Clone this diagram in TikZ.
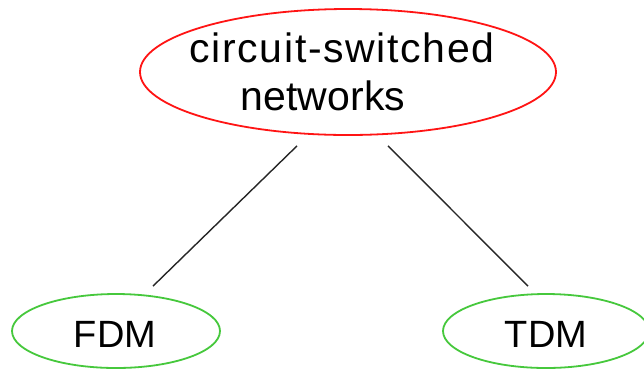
\documentclass[tikz,border=0pt]{standalone}
\usepackage{fontspec}
\setmainfont{Liberation Sans}
\newfontfamily\widesans[LetterSpace=4]{Liberation Sans}
\usetikzlibrary{shapes.geometric}
\definecolor{ellred}{RGB}{255,20,20}
\definecolor{ellgreen}{RGB}{70,200,60}
\begin{document}
\begin{tikzpicture}[x=1pt,y=-1pt,
  topell/.style={ellipse, draw=ellred, line width=1.8pt, inner sep=0pt},
  leafell/.style={ellipse, draw=ellgreen, line width=1.8pt, inner sep=0pt},
  bigtext/.style={anchor=base, inner sep=0pt, font=\fontsize{41}{48}\selectfont},
  leaftext/.style={anchor=base, inner sep=0pt, font=\fontsize{38}{44}\selectfont},
  link/.style={draw=black!85, line width=1.4pt}]
\useasboundingbox (0,0) rectangle (644,368);
\fill[white] (0,0) rectangle (644,368);
\node[topell, minimum width=416pt, minimum height=126pt] (top) at (348,72) {};
\node[bigtext] (t1) at (342,62) {\widesans circuit-switched};
\node[bigtext] (t2) at (323,110) {networks};
\node[leafell, minimum width=208pt, minimum height=74pt] (fdm) at (116,331) {};
\node[leaftext] (fdmt) at (115,347) {FDM};
\node[leafell, minimum width=206pt, minimum height=74pt] (tdm) at (546,331) {};
\node[leaftext] (tdmt) at (546,347) {TDM};
\coordinate (a1) at ([shift={(-51,10)}]top.south);
\coordinate (a2) at ([shift={(37,-7)}]fdm.north);
\coordinate (b1) at ([shift={(40,10)}]top.south);
\coordinate (b2) at ([shift={(-18,-7)}]tdm.north);
\draw[link] (a1) -- (a2);
\draw[link] (b1) -- (b2);
\end{tikzpicture}
\end{document}
